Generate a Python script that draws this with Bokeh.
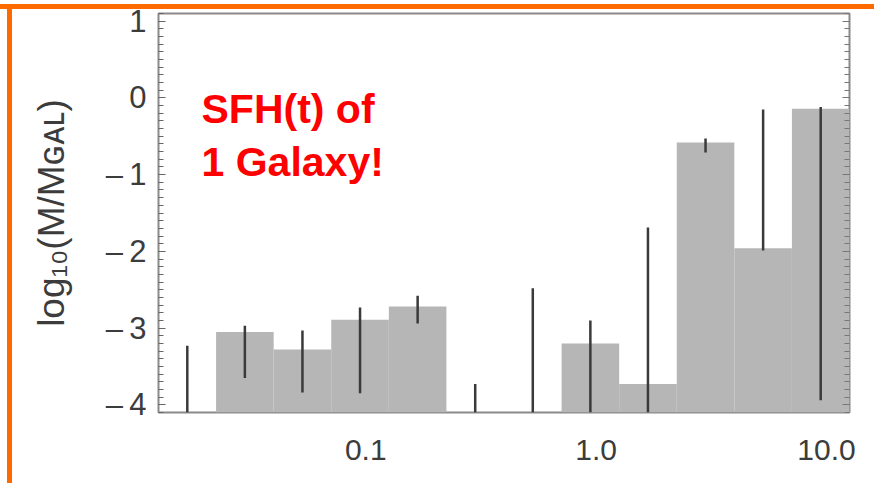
import numpy as np
from bokeh.plotting import figure
from bokeh.models import (Range1d, FixedTicker, LinearAxis, Label,
                          ColumnDataSource)
from bokeh.embed import file_html
from bokeh.resources import INLINE

# Age bins (Gyr), 0.25 dex wide
bin_edges = [0.01259, 0.02239, 0.03981, 0.07079, 0.1259, 0.2239, 0.3981,
             0.7079, 1.2589, 2.2387, 3.981, 7.079, 12.589]
# log10 of mass fraction formed in each bin (None = nothing formed)
log_mass = [None, -3.05, -3.28, -2.89, -2.72, None, None, -3.20, -3.73,
            -0.58, -1.96, -0.14]
err_upper = [-3.23, -2.97, -3.03, -2.73, -2.58, -3.73, -2.48, -2.90, -1.69,
             -0.53, -0.15, -0.12]
err_lower = [-4.1, -3.65, -3.84, -3.85, -2.94, -4.1, -4.1, -4.1, -4.1,
             -0.71, -1.99, -3.94]
y_ticks = [1, 0, -1, -2, -3, -4]
x_ticks = [0.1, 1.0, 10.0]
x_tick_labels = {0.1: "0.1", 1.0: "1.0", 10.0: "10.0"}

Y_MIN, Y_MAX = -4.1, 1.1
ORANGE = "#ff6a00"

lo = np.array(bin_edges[:-1])
hi = np.array(bin_edges[1:])
centers = np.sqrt(lo * hi)

filled = [i for i, v in enumerate(log_mass) if v is not None]
bars = ColumnDataSource(dict(
    left=lo[filled], right=hi[filled],
    top=[log_mass[i] for i in filled],
    bottom=[Y_MIN] * len(filled),
))
errs = ColumnDataSource(dict(x=centers, y0=err_lower, y1=err_upper))

p = figure(width=874, height=483, x_axis_type="log",
           x_range=Range1d(bin_edges[0], bin_edges[-1]),
           y_range=Range1d(Y_MIN, Y_MAX),
           output_backend="svg", toolbar_location=None,
           min_border_left=158, min_border_right=25,
           min_border_top=13, min_border_bottom=71)
# orange slide rules along the top and left edge, painted behind a transparent border
slide_bg = {
    "background-color": "white",
    "background-image": f"linear-gradient({ORANGE},{ORANGE}), linear-gradient({ORANGE},{ORANGE})",
    "background-size": "100% 5px, 5px 100%",
    "background-position": "0px 4px, 7px 4px",
    "background-repeat": "no-repeat",
}
p.styles = slide_bg
p.background_fill_color = "white"
p.border_fill_alpha = 0
p.grid.visible = False
p.outline_line_color = "#8a8a8a"
p.outline_line_width = 2

p.quad(left="left", right="right", top="top", bottom="bottom", source=bars,
       fill_color="#b6b6b6", line_color=None)
p.segment(x0="x", y0="y0", x1="x", y1="y1", source=errs,
          line_color="#3a3a3a", line_width=2.5)

label_font = "Liberation Sans"
minor_y = [float(v) for v in np.round(np.arange(-4.1, 1.11, 0.1), 2)]

# left axis
ya = p.yaxis[0]
ya.ticker = FixedTicker(ticks=y_ticks, minor_ticks=minor_y)
ya.major_label_overrides = {t: (str(t) if t >= 0 else "\u2013\u2009" + str(-t)) for t in y_ticks}
ya.major_label_text_font = label_font
ya.major_label_text_font_size = "31px"
ya.major_label_text_color = "#3c3c3c"
ya.major_label_standoff = 12
ya.major_tick_in = 7
ya.major_tick_out = 0
ya.minor_tick_in = 5
ya.minor_tick_out = 0
ya.major_tick_line_color = "#666666"
ya.minor_tick_line_color = "#666666"
ya.axis_line_color = None
ya.axis_label = "log\u2081\u2080(M/M\u0262\u1d00\u029f)"
ya.axis_label_text_font = label_font
ya.axis_label_text_font_style = "normal"
ya.axis_label_text_font_size = "37px"
ya.axis_label_text_color = "#3c3c3c"
ya.axis_label_standoff = 31

# bottom axis
xa = p.xaxis[0]
xa.ticker = FixedTicker(ticks=x_ticks)
xa.major_label_overrides = x_tick_labels
xa.major_label_text_font = label_font
xa.major_label_text_font_size = "30px"
xa.major_label_text_color = "#3c3c3c"
xa.major_label_standoff = 27
xa.major_tick_in = 0
xa.major_tick_out = 0
xa.minor_tick_in = 0
xa.minor_tick_out = 0
xa.axis_line_color = None

# right frame with inward ticks
ra = LinearAxis(ticker=FixedTicker(ticks=y_ticks, minor_ticks=minor_y),
                major_label_text_font_size="2px", major_label_text_alpha=0,
                major_tick_in=7, major_tick_out=0,
                minor_tick_in=5, minor_tick_out=0, axis_line_color=None,
                major_tick_line_color="#777777", minor_tick_line_color="#777777",
                major_label_standoff=0)
p.add_layout(ra, "right")

# annotation text (frame-relative screen units, y measured up from the frame bottom)
for txt, yy in [("SFH(t) of", 304), ("1 Galaxy!", 251)]:
    p.add_layout(Label(x=43, y=yy, x_units="screen", y_units="screen", text=txt,
                       text_font=label_font, text_font_style="bold",
                       text_font_size="41px", text_color="#ff0000",
                       text_baseline="alphabetic"))

html = file_html(p, INLINE)
body_css = "; ".join(f"{k}: {v}" for k, v in slide_bg.items())
html = html.replace("<body>", f'<body style="margin: 0; {body_css}">', 1)
open("out.html", "w").write(html)
